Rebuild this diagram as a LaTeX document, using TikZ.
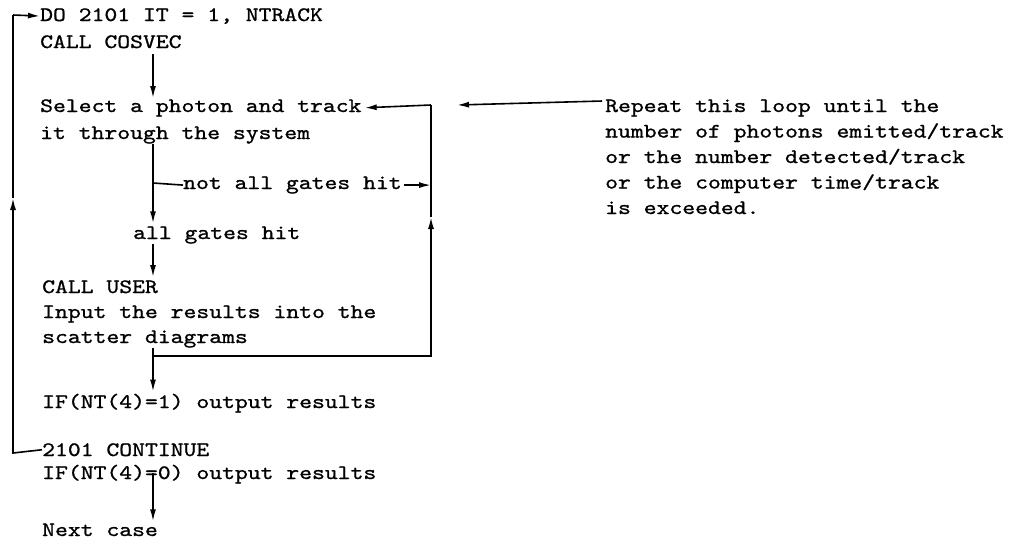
\documentclass[tikz,border=0pt]{standalone}
\usepackage{fontspec}
\newfontfamily\twfont[FakeStretch=1.194,FakeBold=1]{lmmono10-regular.otf}
\usetikzlibrary{arrows.meta,calc}
\begin{document}
\begin{tikzpicture}[x=1pt,y=1pt,
  txt/.style={anchor=base west,inner sep=0pt,font=\twfont\fontsize{20.5}{25.5}\selectfont},
  conn/.style={line width=1.6pt},
  arr/.style={conn,-{Latex[length=12pt,width=6pt]}}]
\useasboundingbox (0,0) rectangle (1016,-542);
% left column
\node[txt] (n1) at (40,-21) {DO 2101 IT = 1, NTRACK};
\node[txt] (n2) at (40,-48) {CALL COSVEC};
\node[txt] (n3) at (40,-112) {Select a photon and track};
\node[txt] (n4) at (40,-139) {it through the system};
\node[txt] (n5) at (183,-189) {not all gates hit};
\node[txt] (n6) at (133,-239) {all gates hit};
\node[txt] (n7) at (42,-293) {CALL USER};
\node[txt] (n8) at (42,-318) {Input the results into the};
\node[txt] (n9) at (42,-343) {scatter diagrams};
\node[txt] (n10) at (42,-408) {IF(NT(4)=1) output results};
\node[txt] (n11) at (42,-456) {2101 CONTINUE};
\node[txt] (n12) at (42,-479) {IF(NT(4)=0) output results};
\node[txt] (n13) at (42,-536) {Next case};
% right text
\node[txt] (r1) at (605,-112) {Repeat this loop until the};
\node[txt] (r2) at (605,-137.5) {number of photons emitted/track};
\node[txt] (r3) at (605,-163) {or the number detected/track};
\node[txt] (r4) at (605,-188.5) {or the computer time/track};
\node[txt] (r5) at (605,-214) {is exceeded.};
% helper coordinates
\coordinate (c) at (153,0);
\coordinate (rx) at (431,0);
\coordinate (lb) at (13,-453);
\coordinate (lm) at (13,-198);
\coordinate (lt) at (13,-15);
\coordinate (rb) at (431,-356);
\coordinate (rm) at (431,-217);
\coordinate (rt) at (431,-105);
\coordinate (cb) at (153,-356);
\coordinate (br) at (153,-183);
\coordinate (rep) at (457,-105);
% outer loop
\draw[arr] (n11.west) -- (lb) -- (lm);
\draw[conn] (lm) -- (lt);
\draw[arr] (lt) -- (n1.west);
% main flow
\draw[arr,shorten <=6pt,shorten >=1pt] (n2.south -| c) -- (n3.north -| c);
\draw[arr,shorten >=3pt] (n4.south -| c) -- (n6.north -| c);
\draw[conn] (br) -- (n5.west);
\draw[arr,shorten <=2pt] (n5.east) -- (n5.east -| rx);
\draw[arr,shorten >=3pt] (n6.south -| c) -- (n7.north -| c);
\draw[arr,shorten >=2pt] (n9.south -| c) -- (n10.north -| c);
% inner loop
\draw[arr] (cb) -- (rb) -- (rm);
\draw[conn] (rm) -- (rt);
\draw[arr,shorten >=3pt] (rt) -- (n3.east);
% repeat note
\draw[arr] (r1.west) ++(-3,7) -- (rep);
% final
\draw[arr,shorten >=2pt] ($(n12.base -| c)+(0,6)$) -- (n13.north -| c);
\end{tikzpicture}
\end{document}
